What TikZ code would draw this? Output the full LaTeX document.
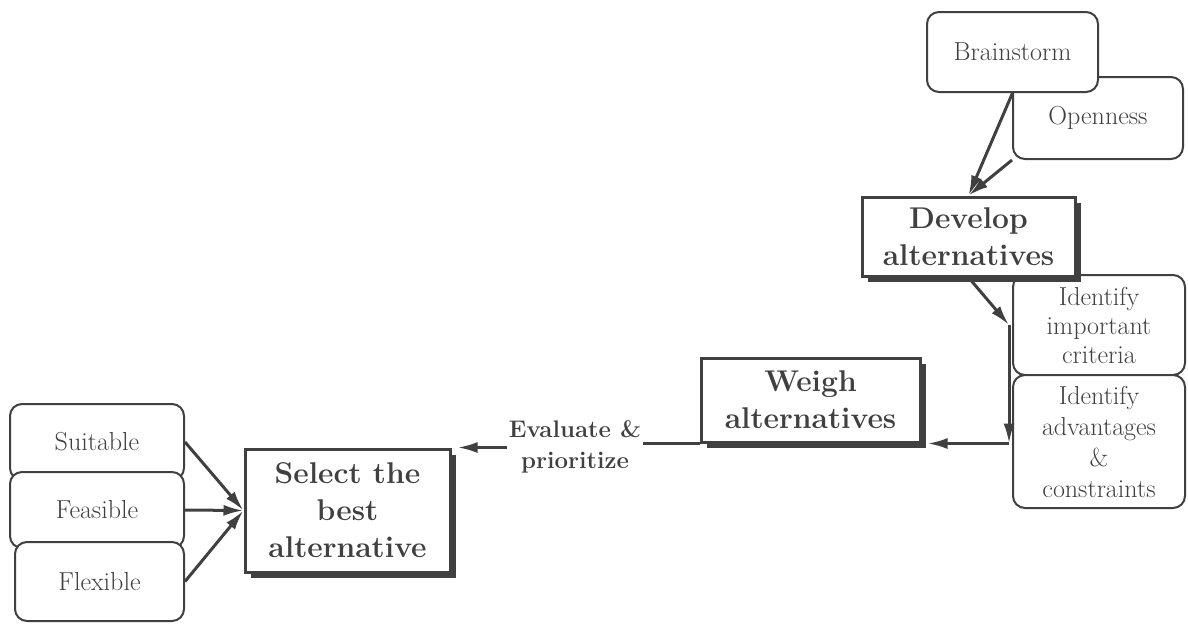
\documentclass[tikz,border=0pt]{standalone}
\usetikzlibrary{arrows.meta,shadows}
\definecolor{ink}{HTML}{404040}

\begin{document}
\begin{tikzpicture}[x=1pt,y=-1pt]
    \useasboundingbox (0,0) rectangle (1188,624);

    \begin{scope}[every node/.style={draw=ink,line width=2pt,rounded corners=12pt,fill=white,
        text=ink,align=center,inner sep=0pt,font=\fontsize{26}{29}\selectfont}]
      \node[minimum width=170pt,minimum height=82pt] (open) at (1098,118) {Openness};
      \node[minimum width=171pt,minimum height=80pt] (brain) at (1012.5,52) {Brainstorm};
      \node[minimum width=172pt,minimum height=100pt] (crit) at (1099,325) {Identify\\important\\criteria};
      \node[minimum width=172pt,minimum height=133pt,font=\fontsize{26}{31}\selectfont] (adv) at (1099,441.5) {Identify\\advantages\\\&\\constraints};
      \node[minimum width=174pt,minimum height=76pt] (suit) at (97,442) {Suitable};
      \node[minimum width=174pt,minimum height=76pt] (feas) at (97,510) {Feasible};
      \node[minimum width=169pt,minimum height=79pt] (flex) at (99.5,581.5) {Flexible};
    \end{scope}

    \begin{scope}[every node/.style={draw=ink,line width=3pt,fill=white,text=ink,align=center,
        font=\bfseries\fontsize{30}{37}\selectfont,
        drop shadow={shadow xshift=6pt,shadow yshift=-6pt,fill=ink,opacity=1}}]
      \node[minimum width=213pt,minimum height=79pt] (develop) at (968.5,236.5) {Develop\\alternatives};
      \node[minimum width=219pt,minimum height=84pt] (weigh) at (810.5,400) {Weigh\\alternatives};
      \node[minimum width=205pt,minimum height=123pt] (select) at (347.5,510.5) {Select the\\best\\alternative};
    \end{scope}

    \node[text=ink,align=center,inner sep=2pt,font=\bfseries\fontsize{24}{31}\selectfont] (eval) at (575,447) {Evaluate \&\\prioritize};

    \coordinate (bend) at ([xshift=-3pt]crit.west);
    \coordinate (corner) at (bend |- weigh.south);

    \begin{scope}[>={Latex[length=20pt,width=11pt]},
        every edge/.style={draw=ink,line width=3pt}]
      \path [->] (brain.south) edge (develop.north);
      \path [->] (open.south west) edge (develop.north);
      \path [->] (develop.south) edge (bend);
      \path [->] (bend) edge (corner);
      \path [->] (corner) edge ([xshift=6pt]weigh.south east);
      \path [-] (weigh.south west) edge (weigh.south west -| eval.east);
      \path [->] (eval.west |- select.north) edge ([xshift=6pt]select.north east);
      \path [->] (suit.east) edge (select.west);
      \path [->] (feas.east) edge (select.west);
      \path [->] (flex.east) edge (select.west);
    \end{scope}
\end{tikzpicture}
\end{document}
